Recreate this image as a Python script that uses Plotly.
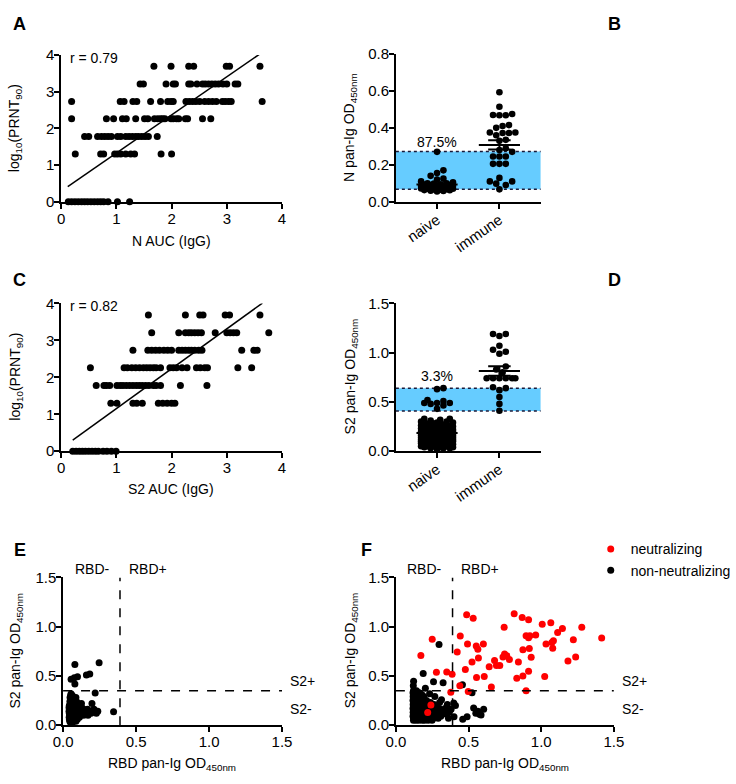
import numpy as np
import plotly.graph_objects as go

# ---------------- data ----------------
prnt_levels = [0.0, 1.30, 1.78, 2.26, 2.73, 3.21, 3.69]

# panel A: N AUC (IgG) values for each log10(PRNT90) level
a_n_auc = [
    [0.13, 0.19, 0.25, 0.31, 0.37, 0.425, 0.48, 0.54, 0.60, 0.66, 0.716, 0.77, 0.85, 1.02, 1.24],
    [0.256, 0.716, 0.77, 0.97, 1.02, 1.08, 1.17, 1.26, 1.33, 1.81, 2.00],
    [0.425, 0.50, 0.66, 0.73, 0.79, 0.85, 0.91, 1.02, 1.08, 1.17, 1.23, 1.29, 1.35, 1.40, 1.46, 1.52, 1.58, 1.74],
    [0.19, 0.82, 0.95, 1.11, 1.18, 1.35, 1.51, 1.57, 1.69, 1.75, 1.80, 1.84, 1.88, 1.99, 2.03, 2.09, 2.13, 2.25, 2.29, 2.56, 2.71],
    [0.19, 1.07, 1.14, 1.30, 1.37, 1.62, 1.80, 1.93, 1.99, 2.03, 2.26, 2.32, 2.38, 2.44, 2.51, 2.60, 2.67, 2.74, 2.81, 2.92, 2.97, 3.03, 3.08, 3.64],
    [1.43, 1.49, 1.90, 2.03, 2.07, 2.31, 2.35, 2.46, 2.56, 2.61, 2.67, 2.73, 2.79, 2.85, 2.93, 3.00, 3.15, 3.20],
    [1.68, 1.99, 2.31, 2.40, 2.99, 3.05, 3.60],
]
a_fit_auc = [0.12, 3.62]
a_fit_prnt = [0.41, 4.05]
a_r = 0.79

# panel C: S2 AUC (IgG) values for each log10(PRNT90) level
c_s2_auc = [
    [0.21, 0.27, 0.33, 0.385, 0.44, 0.50, 0.56, 0.62, 0.675, 0.76, 0.83, 0.91, 0.995],
    [0.90, 1.01, 1.30, 1.37, 1.47, 1.76, 1.84, 1.92, 2.00, 2.06],
    [0.635, 0.775, 0.82, 0.88, 1.01, 1.07, 1.12, 1.18, 1.24, 1.30, 1.36, 1.415, 1.47, 1.53, 1.59, 1.67, 1.72, 1.80, 2.16, 2.64],
    [0.53, 1.14, 1.20, 1.28, 1.35, 1.42, 1.49, 1.55, 1.61, 1.67, 1.72, 1.80, 1.97, 2.03, 2.09, 2.19, 2.28, 2.45, 2.52, 2.60, 2.65, 3.20, 3.45],
    [1.30, 1.57, 1.64, 1.71, 1.78, 1.86, 1.93, 2.00, 2.13, 2.19, 2.25, 2.31, 2.36, 2.42, 2.49, 2.55, 3.27, 3.49, 3.55],
    [1.64, 2.13, 2.25, 2.31, 2.36, 2.42, 2.48, 2.54, 2.79, 3.00, 3.06, 3.12, 3.18, 3.76],
    [1.58, 2.25, 2.51, 2.57, 2.97, 3.05, 3.60],
]
c_fit_auc = [0.21, 3.645]
c_fit_prnt = [0.30, 4.01]
c_r = 0.82

groups = ["naive", "immune"]

# panel B: N pan-Ig OD450nm
b_naive = [0.27, 0.17, 0.155, 0.14, 0.125, 0.12, 0.11, 0.105, 0.10, 0.10, 0.098, 0.095, 0.093,
           0.09, 0.09, 0.088, 0.087, 0.085, 0.085, 0.083, 0.082, 0.08, 0.08, 0.078, 0.077,
           0.075, 0.075, 0.073, 0.072, 0.07, 0.07, 0.068, 0.067, 0.065, 0.063, 0.062, 0.06,
           0.058, 0.056]
b_immune = [0.593, 0.514, 0.468, 0.470, 0.475, 0.468, 0.410, 0.415, 0.400, 0.372, 0.372,
            0.375, 0.375, 0.360, 0.330, 0.335, 0.280, 0.290, 0.270, 0.245, 0.245, 0.245,
            0.205, 0.205, 0.205, 0.129, 0.110, 0.110, 0.098, 0.090, 0.067]
b_band = [0.067, 0.272]
b_label = "87.5%"

# panel D: S2 pan-Ig OD450nm
d_naive = [0.64, 0.63, 0.52, 0.51, 0.49, 0.49, 0.49, 0.48, 0.465, 0.43,
           0.33, 0.33, 0.32, 0.31, 0.30, 0.30, 0.29, 0.29, 0.28, 0.28, 0.28,
           0.27, 0.27, 0.27, 0.26, 0.26, 0.26, 0.26, 0.25, 0.25, 0.25, 0.25,
           0.24, 0.24, 0.24, 0.24, 0.23, 0.23, 0.23, 0.23, 0.23,
           0.22, 0.22, 0.22, 0.22, 0.22, 0.21, 0.21, 0.21, 0.21, 0.21,
           0.20, 0.20, 0.20, 0.20, 0.20, 0.20, 0.19, 0.19, 0.19, 0.19, 0.19, 0.19,
           0.18, 0.18, 0.18, 0.18, 0.18, 0.18, 0.17, 0.17, 0.17, 0.17, 0.17, 0.17,
           0.16, 0.16, 0.16, 0.16, 0.16, 0.16, 0.15, 0.15, 0.15, 0.15, 0.15, 0.15,
           0.14, 0.14, 0.14, 0.14, 0.14, 0.14, 0.13, 0.13, 0.13, 0.13, 0.13, 0.13,
           0.12, 0.12, 0.12, 0.12, 0.12, 0.12, 0.11, 0.11, 0.11, 0.11, 0.11, 0.11,
           0.10, 0.10, 0.10, 0.10, 0.10, 0.10, 0.09, 0.09, 0.09, 0.09, 0.09,
           0.08, 0.08, 0.08, 0.08, 0.08, 0.07, 0.07, 0.07, 0.07, 0.07,
           0.06, 0.06, 0.06, 0.06, 0.05, 0.05, 0.05, 0.05, 0.04, 0.04, 0.04,
           0.03, 0.03, 0.03, 0.02]
d_immune = [1.17, 1.19, 1.19, 1.07, 1.03, 1.01, 0.99, 0.86, 0.83, 0.80, 0.74, 0.74, 0.74,
            0.74, 0.74, 0.74, 0.65, 0.64, 0.62, 0.55, 0.48, 0.41]
d_band = [0.407, 0.639]
d_label = "3.3%"

rbd_cutoff = 0.39
s2_cutoff = 0.35

# panel E: naive sera, (RBD, S2) pairs
e_outliers = [(0.081, 0.616), (0.247, 0.633), (0.055, 0.467), (0.077, 0.480), (0.099, 0.490),
              (0.081, 0.417), (0.160, 0.510), (0.183, 0.520), (0.055, 0.318), (0.220, 0.325),
              (0.126, 0.219), (0.198, 0.219), (0.346, 0.136)]
e_s2_rows = [0.30, 0.28, 0.26, 0.24, 0.22, 0.20, 0.18, 0.16, 0.14, 0.12, 0.10, 0.08, 0.06, 0.04, 0.025]
e_rbd_rows = [
    [0.052, 0.063],
    [0.048, 0.061, 0.072, 0.088],
    [0.055, 0.064, 0.081],
    [0.047, 0.058, 0.071, 0.092],
    [0.051, 0.062, 0.069, 0.083, 0.104],
    [0.043, 0.054, 0.066, 0.074, 0.091],
    [0.041, 0.052, 0.061, 0.073, 0.085, 0.101, 0.128],
    [0.044, 0.053, 0.062, 0.071, 0.082, 0.094, 0.112, 0.142, 0.168, 0.212],
    [0.041, 0.049, 0.058, 0.069, 0.079, 0.098, 0.121, 0.152, 0.181, 0.218, 0.238],
    [0.043, 0.052, 0.063, 0.072, 0.084, 0.093, 0.109, 0.134, 0.158, 0.192, 0.228],
    [0.045, 0.054, 0.061, 0.073, 0.081, 0.102, 0.118, 0.141, 0.171],
    [0.042, 0.051, 0.064, 0.072, 0.089, 0.112],
    [0.044, 0.053, 0.062, 0.071, 0.083, 0.098],
    [0.046, 0.055, 0.063, 0.074, 0.088],
    [0.052, 0.061],
]

# panel F: immune sera, (RBD, S2) pairs
f_neutralizing = [
    (0.487, 1.122), (0.532, 1.086), (0.814, 1.130), (0.869, 1.093), (0.913, 1.070), (1.007, 1.024),
    (1.066, 1.040), (0.745, 0.993), (1.279, 0.993), (1.146, 0.980), (1.113, 0.940), (0.962, 0.914),
    (0.896, 0.907), (0.922, 0.907), (0.913, 0.887), (1.416, 0.884), (1.221, 0.867), (1.033, 0.824),
    (1.084, 0.857), (1.073, 0.838), (1.079, 0.780), (0.250, 0.871), (0.443, 0.904), (0.493, 0.824),
    (0.553, 0.804), (0.564, 0.771), (0.602, 0.824), (0.422, 0.742), (0.874, 0.765), (0.918, 0.778),
    (0.172, 0.708), (0.748, 0.722), (0.763, 0.705), (0.737, 0.692), (0.781, 0.666), (0.679, 0.656),
    (0.715, 0.606), (0.692, 0.606), (0.642, 0.593), (0.568, 0.682), (0.524, 0.640), (0.931, 0.689),
    (0.843, 0.640), (1.184, 0.650), (1.237, 0.692), (0.478, 0.566), (0.608, 0.493), (0.555, 0.483),
    (1.024, 0.493), (0.874, 0.500), (0.913, 0.546), (0.832, 0.476), (0.279, 0.536), (0.350, 0.540),
    (0.387, 0.517), (0.440, 0.400), (0.657, 0.387), (0.498, 0.341), (0.378, 0.335), (0.896, 0.348),
    (0.241, 0.205), (0.219, 0.129),
]
f_non_outliers = [
    (0.297, 0.818), (0.188, 0.523), (0.259, 0.441), (0.325, 0.430), (0.122, 0.446), (0.458, 0.410),
    (0.524, 0.330), (0.203, 0.375), (0.232, 0.318), (0.314, 0.258), (0.354, 0.210), (0.398, 0.225),
    (0.410, 0.200), (0.380, 0.160), (0.400, 0.085), (0.460, 0.060), (0.490, 0.085), (0.535, 0.175),
    (0.564, 0.142), (0.586, 0.103), (0.604, 0.160), (0.550, 0.120), (0.575, 0.110), (0.120, 0.400),
    (0.144, 0.328),
]
f_non_s2_rows = [0.35, 0.33, 0.31, 0.29, 0.27, 0.25, 0.23, 0.21, 0.19, 0.17, 0.15, 0.13, 0.11, 0.09, 0.07, 0.05]
f_non_rbd_rows = [
    [0.121, 0.142],
    [0.118, 0.133, 0.162],
    [0.122, 0.131, 0.151, 0.178],
    [0.119, 0.132, 0.143, 0.161, 0.192, 0.268],
    [0.121, 0.134, 0.152, 0.171],
    [0.118, 0.129, 0.141, 0.163, 0.182, 0.211],
    [0.122, 0.133, 0.148, 0.172, 0.203, 0.238, 0.301],
    [0.119, 0.141, 0.158, 0.181, 0.219, 0.262],
    [0.121, 0.132, 0.152, 0.168, 0.191, 0.213, 0.248, 0.281],
    [0.118, 0.139, 0.161, 0.178, 0.202, 0.231, 0.298, 0.338],
    [0.122, 0.131, 0.149, 0.172, 0.188, 0.211, 0.239, 0.272, 0.321],
    [0.119, 0.142, 0.158, 0.181, 0.199, 0.222, 0.251, 0.289, 0.331, 0.368],
    [0.121, 0.129, 0.152, 0.168, 0.192, 0.208, 0.232, 0.261, 0.302, 0.348],
    [0.118, 0.141, 0.161, 0.179, 0.201, 0.219, 0.242, 0.271, 0.309],
    [0.122, 0.133, 0.151, 0.172, 0.189, 0.212, 0.228, 0.259, 0.291, 0.362],
    [0.121, 0.139, 0.158, 0.181, 0.198, 0.222, 0.249],
]

# ---------------- helpers ----------------
W, H = 736, 784
FONT = "Liberation Sans, Arial, Helvetica, sans-serif"
BLUE = "#66CCFF"
RED = "#FF0000"


def pxx(p):
    return p / W


def pxy(p):
    return 1 - p / H


def expand_rows(levels, rows):
    xs, ys = [], []
    for lev, row in zip(levels, rows):
        for v in row:
            xs.append(v)
            ys.append(lev)
    return xs, ys


def swarm(vals, ppx, ppy, diam, half_px):
    n = len(vals)
    order = sorted(range(n), key=lambda i: vals[i])
    step = diam / 2.0
    kmax = int(half_px / step)
    cands = [0.0]
    for k in range(1, kmax + 1):
        cands += [k * step, -k * step]
    placed = []
    off = [0.0] * n
    for i in order:
        yy = vals[i] * ppy
        near = [(a, b) for a, b in placed if abs(b - yy) < diam]
        chosen = None
        for c in cands:
            if all((c - a) ** 2 + (yy - b) ** 2 >= (0.95 * diam) ** 2 for a, b in near):
                chosen = c
                break
        if chosen is None:
            chosen = max(cands, key=lambda c: min((c - a) ** 2 + (yy - b) ** 2 for a, b in near))
        placed.append((chosen, yy))
        off[i] = chosen / ppx
    return off


def mean_sem_trace(vals, center, xa, ya):
    v = np.asarray(vals, dtype=float)
    m = float(v.mean())
    s = float(v.std(ddof=1) / np.sqrt(len(v)))
    hw, cw = 0.33, 0.18
    xs = [center - hw, center + hw, None, center, center, None,
          center - cw, center + cw, None, center - cw, center + cw]
    ys = [m, m, None, m - s, m + s, None, m + s, m + s, None, m - s, m - s]
    return go.Scatter(x=xs, y=ys, mode="lines", line=dict(color="black", width=2),
                      xaxis=xa, yaxis=ya, showlegend=False, hoverinfo="skip", cliponaxis=False)


fig = go.Figure()

# A
ax, ay = expand_rows(prnt_levels, a_n_auc)
fig.add_trace(go.Scatter(x=ax, y=ay, mode="markers", marker=dict(color="black", size=7),
                         xaxis="x", yaxis="y", showlegend=False, cliponaxis=False))
fig.add_trace(go.Scatter(x=a_fit_auc, y=a_fit_prnt, mode="lines", line=dict(color="black", width=1.5),
                         xaxis="x", yaxis="y", showlegend=False, cliponaxis=False))

# C
cx, cy = expand_rows(prnt_levels, c_s2_auc)
fig.add_trace(go.Scatter(x=cx, y=cy, mode="markers", marker=dict(color="black", size=7),
                         xaxis="x3", yaxis="y3", showlegend=False, cliponaxis=False))
fig.add_trace(go.Scatter(x=c_fit_auc, y=c_fit_prnt, mode="lines", line=dict(color="black", width=1.5),
                         xaxis="x3", yaxis="y3", showlegend=False, cliponaxis=False))

# B and D dot plots
cat_ppx = (507.3 - 442.7)  # pixels per category unit
for vals_n, vals_i, xa, ya, ppy in [(b_naive, b_immune, "x2", "y2", 151 / 0.8),
                                     (d_naive, d_immune, "x4", "y4", 151 / 1.5)]:
    for k, vals in enumerate([vals_n, vals_i]):
        off = swarm(vals, cat_ppx, ppy, 6.6, 18.5)
        fig.add_trace(go.Scatter(x=[k + o for o in off], y=vals, mode="markers",
                                 marker=dict(color="black", size=6.6),
                                 xaxis=xa, yaxis=ya, showlegend=False, cliponaxis=False))
        fig.add_trace(mean_sem_trace(vals, k, xa, ya))

# E
ex, ey = expand_rows(e_s2_rows, e_rbd_rows)
ex = [p[0] for p in e_outliers] + ex
ey = [p[1] for p in e_outliers] + ey
fig.add_trace(go.Scatter(x=ex, y=ey, mode="markers", marker=dict(color="black", size=7),
                         xaxis="x5", yaxis="y5", showlegend=False, cliponaxis=False))

# F
fx, fy = expand_rows(f_non_s2_rows, f_non_rbd_rows)
fx = [p[0] for p in f_non_outliers] + fx
fy = [p[1] for p in f_non_outliers] + fy
fig.add_trace(go.Scatter(x=fx, y=fy, mode="markers", marker=dict(color="black", size=7),
                         xaxis="x6", yaxis="y6", name="non-neutralizing", cliponaxis=False))
fig.add_trace(go.Scatter(x=[p[0] for p in f_neutralizing], y=[p[1] for p in f_neutralizing],
                         mode="markers", marker=dict(color=RED, size=7),
                         xaxis="x6", yaxis="y6", name="neutralizing", cliponaxis=False))

# ---------------- axes ----------------
base = dict(showline=True, linecolor="black", linewidth=1.6, ticks="outside", ticklen=5,
            tickwidth=1.6, tickcolor="black", showgrid=False, zeroline=False,
            ticklabelstandoff=-3,
            tickfont=dict(size=15, color="black", family=FONT), fixedrange=True)

colL = [pxx(53), pxx(282)]
colR = [pxx(400), pxx(550)]
rowT = [pxy(197), pxy(47)]
rowM = [pxy(452), pxy(301)]
rowB = [pxy(732), pxy(581)]
dom_e = [pxx(55), pxx(282)]
dom_f = [pxx(400), pxx(626)]
od_range = [0, 1.5]

layout_axes = dict(
    xaxis=dict(base, domain=colL, range=[0, 4], tickvals=[0, 1, 2, 3, 4], anchor="y"),
    yaxis=dict(base, domain=rowT, range=[0, 4], tickvals=[0, 1, 2, 3, 4], anchor="x"),
    xaxis2=dict(base, domain=colR, range=[-0.66, 1.66], tickvals=[0, 1], ticktext=groups,
                tickangle=-35, anchor="y2"),
    yaxis2=dict(base, domain=[pxy(197), pxy(46)], range=[0, 0.8], tickvals=[0, 0.2, 0.4, 0.6, 0.8],
                tickformat=".1f", anchor="x2"),
    xaxis3=dict(base, domain=colL, range=[0, 4], tickvals=[0, 1, 2, 3, 4], anchor="y3"),
    yaxis3=dict(base, domain=rowM, range=[0, 4], tickvals=[0, 1, 2, 3, 4], anchor="x3"),
    xaxis4=dict(base, domain=colR, range=[-0.66, 1.66], tickvals=[0, 1], ticktext=groups,
                tickangle=-35, anchor="y4"),
    yaxis4=dict(base, domain=rowM, range=[0, 1.5], tickvals=[0, 0.5, 1.0, 1.5],
                tickformat=".1f", anchor="x4"),
    xaxis5=dict(base, domain=dom_e, range=od_range, tickvals=[0, 0.5, 1.0, 1.5],
                tickformat=".1f", anchor="y5"),
    yaxis5=dict(base, domain=rowB, range=od_range, tickvals=[0, 0.5, 1.0, 1.5],
                tickformat=".1f", anchor="x5"),
    xaxis6=dict(base, domain=dom_f, range=od_range, tickvals=[0, 0.5, 1.0, 1.5],
                tickformat=".1f", anchor="y6"),
    yaxis6=dict(base, domain=rowB, range=od_range, tickvals=[0, 0.5, 1.0, 1.5],
                tickformat=".1f", anchor="x6"),
)

# ---------------- shapes ----------------
shapes = []
for xa, ya, band in [("x2", "y2", b_band), ("x4", "y4", d_band)]:
    shapes.append(dict(type="rect", xref=xa + " domain", yref=ya, x0=0, x1=1, y0=band[0], y1=band[1],
                       fillcolor=BLUE, line=dict(width=0), layer="below"))
    for yv in band:
        shapes.append(dict(type="line", xref=xa + " domain", yref=ya, x0=0, x1=1, y0=yv, y1=yv,
                           line=dict(color="#1a1a3a", width=1.5, dash="dot"), layer="below"))
for xa, ya in [("x5", "y5"), ("x6", "y6")]:
    shapes.append(dict(type="line", xref=xa, yref=ya, x0=rbd_cutoff, x1=rbd_cutoff, y0=0, y1=1.5,
                       line=dict(color="black", width=1.5, dash="dash")))
    shapes.append(dict(type="line", xref=xa, yref=ya, x0=0, x1=1.5, y0=s2_cutoff, y1=s2_cutoff,
                       line=dict(color="black", width=1.5, dash="dash")))

# ---------------- annotations ----------------
ann = []


def paper_text(text, x, y, size=14, angle=0, bold=False, xanchor="center"):
    t = "<b>%s</b>" % text if bold else text
    ann.append(dict(text=t, x=pxx(x), y=pxy(y), xref="paper", yref="paper", showarrow=False,
                    textangle=angle, xanchor=xanchor, yanchor="middle",
                    font=dict(size=size, color="black", family=FONT)))


def data_text(text, x, y, xa, ya, xanchor="center"):
    ann.append(dict(text=text, x=x, y=y, xref=xa, yref=ya, showarrow=False, xanchor=xanchor,
                    yanchor="middle", font=dict(size=14, color="black", family=FONT)))


def od_text(text, x, y, xdom, ydom, xanchor="center"):
    # position given in data units of an OD panel, placed via paper coords (may lie outside range)
    px = xdom[0] + (x - od_range[0]) / (od_range[1] - od_range[0]) * (xdom[1] - xdom[0])
    py = ydom[0] + (y - od_range[0]) / (od_range[1] - od_range[0]) * (ydom[1] - ydom[0])
    ann.append(dict(text=text, x=px, y=py, xref="paper", yref="paper", showarrow=False,
                    xanchor=xanchor, yanchor="middle", font=dict(size=14, color="black", family=FONT)))


# panel letters
paper_text("A", 10, 15, size=18, bold=True)
paper_text("B", 627, 15, size=18, bold=True)
paper_text("C", 10, 277, size=18, bold=True)
paper_text("D", 627, 277, size=18, bold=True)
paper_text("E", 10, 553, size=18, bold=True)
paper_text("F", 370, 553, size=18, bold=True)

# axis titles
ytitle_prnt = "log<sub>10</sub>(PRNT<sub>90</sub>)"
paper_text(ytitle_prnt, 6, 122, angle=-90)
paper_text(ytitle_prnt, 6, 376, angle=-90)
paper_text("N AUC (IgG)", 167, 237)
paper_text("S2 AUC (IgG)", 167, 491)
paper_text("N pan-Ig OD<sub>450nm</sub>", 353, 121, angle=-90)
paper_text("S2 pan-Ig OD<sub>450nm</sub>", 353, 376, angle=-90)
paper_text("S2 pan-Ig OD<sub>450nm</sub>", 6, 656, angle=-90)
paper_text("S2 pan-Ig OD<sub>450nm</sub>", 353, 656, angle=-90)
paper_text("RBD pan-Ig OD<sub>450nm</sub>", 168, 772)
paper_text("RBD pan-Ig OD<sub>450nm</sub>", 513, 772)

# in-plot texts
data_text("r = %.2f" % a_r, 0.12, 3.92, "x", "y", xanchor="left")
data_text("r = %.2f" % c_r, 0.12, 3.92, "x3", "y3", xanchor="left")
data_text(b_label, 0, 0.323, "x2", "y2")
data_text(d_label, 0, 0.765, "x4", "y4")
for xdom in [dom_e, dom_f]:
    od_text("RBD-", 0.20, 1.59, xdom, rowB)
    od_text("RBD+", 0.58, 1.59, xdom, rowB)
    od_text("S2+", 1.54, 0.45, xdom, rowB, xanchor="left")
    od_text("S2-", 1.54, 0.16, xdom, rowB, xanchor="left")

fig.update_layout(
    width=W, height=H, autosize=False,
    margin=dict(l=0, r=0, t=0, b=0),
    paper_bgcolor="white", plot_bgcolor="white",
    font=dict(family=FONT, size=14, color="black"),
    shapes=shapes, annotations=ann,
    showlegend=True,
    legend=dict(x=pxx(602), y=pxy(536), xanchor="left", yanchor="top", traceorder="reversed",
                font=dict(size=14, color="black", family=FONT), bgcolor="rgba(0,0,0,0)",
                itemclick=False),
    **layout_axes,
)

fig.write_html("out.html", config={"displayModeBar": False},
               post_script="document.body.style.margin='0';")
